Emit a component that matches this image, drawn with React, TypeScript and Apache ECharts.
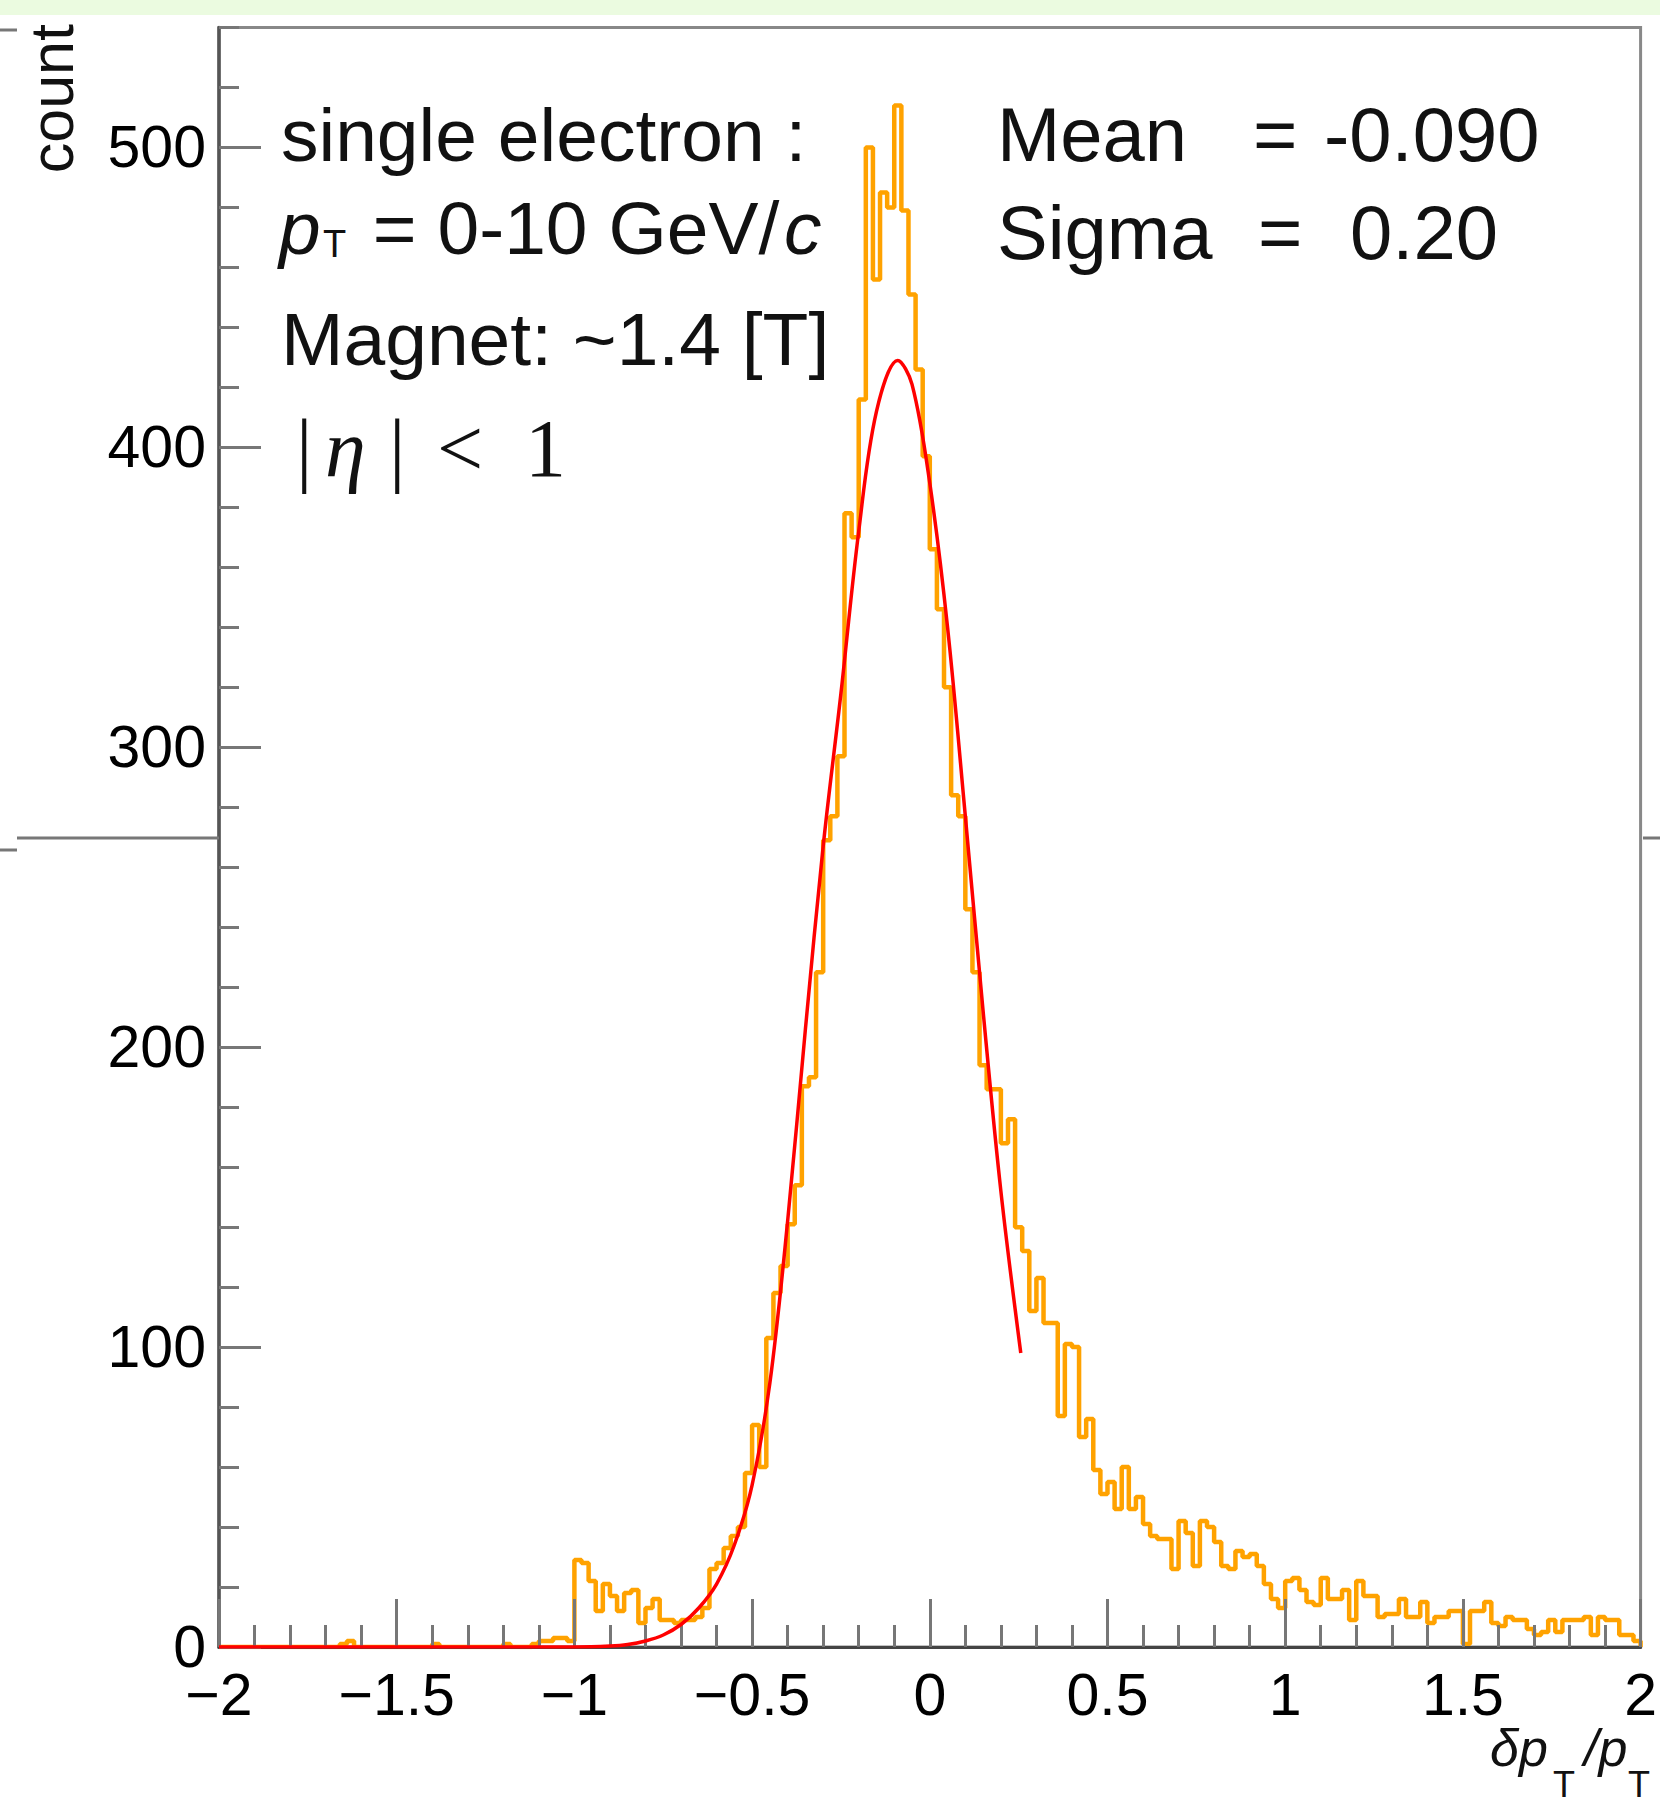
import React, { useEffect, useRef } from "react";
import * as echarts from "echarts";

// ---- data ----
const binStart = -2;
const binWidth = 0.02;
// bins -2.00 ... -0.02 (left edges)
const countsNeg: number[] = [
  0, 0, 0, 0, 0, 0, 0, 0, 0, 0,
  0, 0, 0, 0, 0, 0, 0, 1, 2, 0,
  0, 0, 0, 0, 0, 0, 0, 0, 0, 0,
  1, 0, 0, 0, 0, 0, 0, 0, 0, 0,
  1, 0, 0, 0, 1, 2, 2, 3, 3, 2,
  29, 28, 22, 12, 21, 17, 12, 18, 19, 8,
  13, 16, 9, 9, 8, 9, 9, 10, 13, 26,
  28, 33, 37, 40, 58, 74, 60, 103, 118, 127,
  141, 154, 187, 190, 225, 269, 277, 297, 378, 370,
  416, 500, 456, 485, 480, 514, 479, 451, 426, 397,
];
// bins 0.00 ... 1.98 (left edges)
const countsPos: number[] = [
  366, 346, 320, 284, 277, 246, 225, 194, 186, 186,
  168, 176, 140, 132, 112, 123, 108, 108, 77, 101,
  100, 70, 76, 59, 51, 55, 46, 60, 46, 50,
  41, 37, 36, 36, 26, 42, 38, 27, 42, 40,
  35, 27, 26, 32, 30, 31, 27, 21, 16, 13,
  22, 23, 19, 15, 14, 23, 16, 16, 19, 9,
  22, 17, 17, 10, 11, 11, 16, 10, 10, 15,
  8, 10, 10, 12, 12, 1, 12, 12, 15, 8,
  7, 10, 9, 9, 6, 4, 5, 9, 5, 9,
  9, 9, 10, 4, 10, 9, 9, 4, 4, 2,
];
// fitted curve (red)
const fitX: number[] = [-2, -1.2, -1.0, -0.9, -0.85, -0.8, -0.75, -0.7, -0.65, -0.6, -0.55, -0.5, -0.45, -0.4, -0.35, -0.3, -0.25, -0.2, -0.15, -0.09, -0.05, 0, 0.05, 0.1, 0.15, 0.2, 0.256];
const fitY: number[] = [0, 0, 0, 0.3, 0.8, 2.0, 4, 7.5, 13, 21, 34, 54, 88, 142, 206, 267, 318, 372, 412, 429, 421, 388, 340, 277, 212, 152, 98];

const xTickValues = [-2, -1.5, -1, -0.5, 0, 0.5, 1, 1.5, 2];
const xTickLabels = ["\u22122", "\u22121.5", "\u22121", "\u22120.5", "0", "0.5", "1", "1.5", "2"];
const yTickValues = [0, 100, 200, 300, 400, 500];
const yTickLabels = ["0", "100", "200", "300", "400", "500"];
const yMinorStep = 20;
const yMax = 540;

const statNames = ["Mean", "Sigma"];
const statValues = ["-0.090", "0.20"];

const SANS = '"Liberation Sans", Arial, Helvetica, sans-serif';
const SERIF = '"Liberation Serif", "Times New Roman", serif';

function txt(text: string, x: number, y: number, font: string, extra: any = {}) {
  return {
    type: "text",
    x,
    y,
    z: 100,
    silent: true,
    ...extra,
    style: {
      text,
      font,
      fill: "#111",
      align: extra.align || "left",
      textAlign: extra.align || "left",
      verticalAlign: "middle",
      textVerticalAlign: "middle",
    },
  };
}

export default function App() {
  const ref = useRef<HTMLDivElement>(null);
  useEffect(() => {
    if (!ref.current) return;
    const chart = echarts.init(ref.current, undefined, { renderer: "svg" });

    const counts = countsNeg.concat(countsPos);
    const histData: number[][] = [[binStart, 0]];
    counts.forEach((c, i) => histData.push([+(binStart + i * binWidth).toFixed(2), c]));
    histData.push([+(binStart + counts.length * binWidth).toFixed(2), counts[counts.length - 1]]);
    histData.push([+(binStart + counts.length * binWidth).toFixed(2), 0]);

    const fitData = fitX.map((x, i) => [x, fitY[i]]);
    const yMinor: number[] = [];
    for (let v = 0; v <= yMax; v += yMinorStep) yMinor.push(v);

    const f75 = `75px ${SANS}`;
    const fi75 = `italic 75px ${SANS}`;
    const B1 = 160.5, B2 = 254, B3 = 364.5;
    const mid = (b: number, fs: number) => b - 0.3465 * fs;

    const graphics: any[] = [
      { type: "rect", shape: { x: 0, y: 0, width: 1660, height: 15 }, style: { fill: "#ebfbe0" }, z: 100, silent: true },
      // stray lines from the underlying canvas
      { type: "line", shape: { x1: 17, y1: 838, x2: 219, y2: 838 }, style: { stroke: "#777", lineWidth: 3 }, z: 100, silent: true },
      { type: "line", shape: { x1: 0, y1: 850, x2: 17, y2: 850 }, style: { stroke: "#777", lineWidth: 3 }, z: 100, silent: true },
      { type: "line", shape: { x1: 0, y1: 30, x2: 17, y2: 30 }, style: { stroke: "#777", lineWidth: 3 }, z: 100, silent: true },
      { type: "line", shape: { x1: 1643, y1: 838, x2: 1660, y2: 838 }, style: { stroke: "#777", lineWidth: 3 }, z: 100, silent: true },
      // y axis title
      txt("count", 52, 24, `61px ${SANS}`, { rotation: Math.PI / 2, align: "right" }),
      // annotations
      txt("single electron :", 281, mid(B1, 75), f75),
      txt("p", 279, mid(B2, 75), fi75),
      txt("T", 323, mid(257, 38), `38px ${SANS}`),
      txt(" = 0-10 GeV/", 352, mid(B2, 75), f75),
      txt("c", 784, mid(B2, 75), fi75),
      txt("Magnet: ~1.4 [T]", 281, mid(B3, 75), f75),
      txt("|", 296, mid(477, 82), `82px ${SERIF}`),
      txt("\u03b7", 325, mid(477, 82), `italic 82px ${SERIF}`),
      txt("|", 389, mid(477, 82), `82px ${SERIF}`),
      txt("<", 437, mid(477, 82), `82px ${SERIF}`),
      txt("1", 525, mid(477, 82), `82px ${SERIF}`),
      txt(statNames[0], 997, mid(B1, 75), `76px ${SANS}`),
      txt("=", 1253, mid(B1, 75), `76px ${SANS}`),
      txt(statValues[0], 1324, mid(B1, 75), `76px ${SANS}`),
      txt(statNames[1], 997, mid(258, 75), `76px ${SANS}`),
      txt("=", 1258, mid(258, 75), `76px ${SANS}`),
      txt(statValues[1], 1350, mid(258, 75), `76px ${SANS}`),
      // x axis title
      txt("\u03b4p", 1490, mid(1766, 52), `italic 52px ${SANS}`),
      txt("T", 1553, mid(1797, 36), `36px ${SANS}`),
      txt("/p", 1584, mid(1766, 52), `italic 52px ${SANS}`),
      txt("T", 1628, mid(1797, 36), `36px ${SANS}`),
    ];

    chart.setOption({
      animation: false,
      backgroundColor: "#ffffff",
      grid: {
        left: 219,
        right: 18,
        top: 27.5,
        bottom: 150,
        show: true,
        borderColor: "#888",
        borderWidth: 3,
        backgroundColor: "#ffffff",
      },
      xAxis: {
        type: "value",
        min: -2,
        max: 2,
        interval: 0.5,
        z: 3,
        axisLine: { show: true, onZero: false, lineStyle: { color: "#444", width: 3 } },
        axisTick: { show: true, inside: true, length: 48, lineStyle: { color: "#777", width: 3 } },
        minorTick: { show: true, splitNumber: 5, length: 22, lineStyle: { color: "#777", width: 3 } },
        splitLine: { show: false },
        minorSplitLine: { show: false },
        axisLabel: {
          show: true,
          margin: 18,
          fontSize: 59,
          fontFamily: SANS,
          color: "#000",
          showMinLabel: true,
          showMaxLabel: true,
          formatter: (v: number) => {
            const i = xTickValues.findIndex((t) => Math.abs(t - v) < 1e-9);
            return i >= 0 ? xTickLabels[i] : "";
          },
        },
      },
      yAxis: [
        {
          type: "value",
          min: 0,
          max: yMax,
          z: 3,
          position: "left",
          axisLine: { show: true, onZero: false, lineStyle: { color: "#555", width: 3.5 } },
          axisTick: { show: true, inside: true, length: 42, customValues: yTickValues, lineStyle: { color: "#777", width: 3 } },
          splitLine: { show: false },
          axisLabel: {
            show: true,
            margin: 13,
            fontSize: 59,
            fontFamily: SANS,
            color: "#000",
            customValues: yTickValues,
            formatter: (v: number) => {
              const i = yTickValues.indexOf(v);
              return i >= 0 ? yTickLabels[i] : "";
            },
          },
        },
        {
          type: "value",
          min: 0,
          max: yMax,
          position: "left",
          offset: 0,
          z: 3,
          axisLine: { show: false, onZero: false },
          axisTick: { show: true, inside: true, length: 20, customValues: yMinor, lineStyle: { color: "#777", width: 3 } },
          splitLine: { show: false },
          axisLabel: { show: false },
        },
      ],
      series: [
        {
          type: "line",
          data: histData,
          step: "end",
          showSymbol: false,
          symbol: "none",
          z: 2,
          lineStyle: { color: "#ffa200", width: 4.5 },
          itemStyle: { color: "#ffa200" },
        },
        {
          type: "line",
          data: fitData,
          smooth: 0.35,
          showSymbol: false,
          symbol: "none",
          z: 4,
          lineStyle: { color: "#ff0000", width: 3.5 },
          itemStyle: { color: "#ff0000" },
        },
      ],
      graphic: { elements: graphics },
    });
    return () => chart.dispose();
  }, []);
  return <div ref={ref} style={{ position: "absolute", left: 0, top: 0, width: 1660, height: 1797 }} />;
}
